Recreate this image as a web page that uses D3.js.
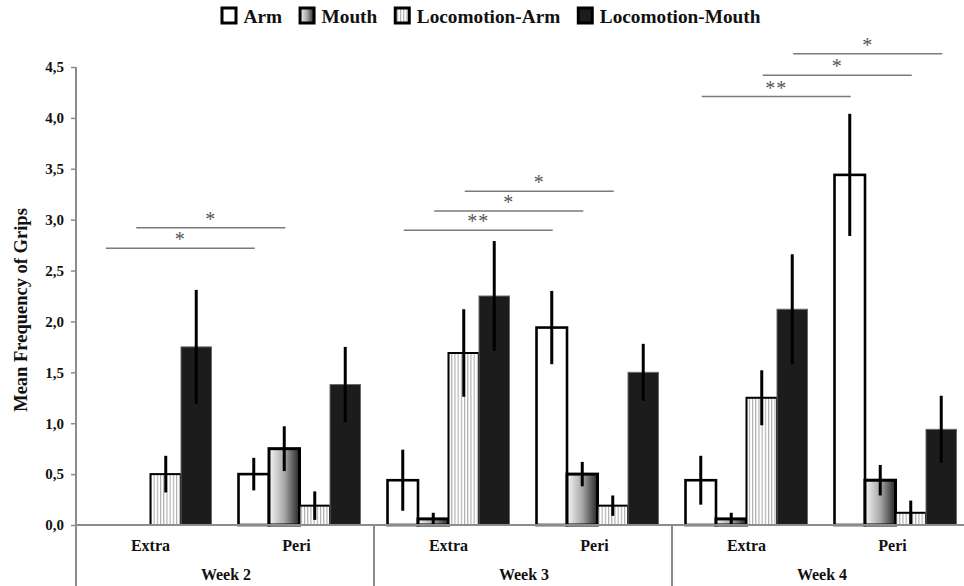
<!DOCTYPE html>
<html><head><meta charset="utf-8">
<script src="https://cdn.jsdelivr.net/npm/d3@7"></script>
<style>
html,body{margin:0;padding:0;background:#fff;}
text{font-family:"Liberation Serif","Times New Roman",serif;}
</style></head>
<body>
<svg id="chart" width="964" height="586"></svg>
<script>
// ---- data ----
const weeks = ["Week 2", "Week 3", "Week 4"];
const locations = ["Extra", "Peri"];
const seriesNames = ["Arm", "Mouth", "Locomotion-Arm", "Locomotion-Mouth"];
// order: W2 Extra, W2 Peri, W3 Extra, W3 Peri, W4 Extra, W4 Peri
const armMean      = [0,    0.50, 0.44, 1.94, 0.44, 3.44];
const armErr       = [0,    0.16, 0.30, 0.36, 0.24, 0.60];
const mouthMean    = [0,    0.75, 0.06, 0.50, 0.06, 0.44];
const mouthErr     = [0,    0.22, 0.06, 0.12, 0.06, 0.15];
const locArmMean   = [0.50, 0.19, 1.69, 0.19, 1.25, 0.12];
const locArmErr    = [0.18, 0.14, 0.43, 0.10, 0.27, 0.12];
const locMouthMean = [1.75, 1.38, 2.25, 1.50, 2.12, 0.94];
const locMouthErr  = [0.56, 0.37, 0.54, 0.28, 0.54, 0.33];
const yTicks = [0, 0.5, 1, 1.5, 2, 2.5, 3, 3.5, 4, 4.5];
// significance brackets (Extra vs Peri of same series within a week)
const sigWeek   = [0, 0, 1, 1, 1, 2, 2, 2];
const sigSeries = [1, 0, 0, 1, 2, 0, 2, 3];
const sigLevel  = [2.92, 2.72, 2.895, 3.085, 3.28, 4.21, 4.42, 4.63];
const sigLabel  = ["*", "*", "**", "*", "*", "**", "*", "*"];

const means = [armMean, mouthMean, locArmMean, locMouthMean];
const errs  = [armErr, mouthErr, locArmErr, locMouthErr];

// ---- layout ----
const svg = d3.select("#chart");
const mLeft = 76, mRight = 970, mTop = 67, mBottom = 525, axisEnd = 586;
const groups = [];
weeks.forEach(w => locations.forEach(l => groups.push(w + "|" + l)));

const xWeek = d3.scaleBand().domain(weeks).range([mLeft, mRight]);
const xGroup = d3.scaleBand().domain(groups).range([mLeft, mRight]);
const xSeries = d3.scaleBand().domain(seriesNames).range([0, xGroup.bandwidth()]).paddingInner(0).paddingOuter(0.443);
const y = d3.scaleLinear().domain([0, 4.5]).range([mBottom, mTop]);

// defs
const defs = svg.append("defs");
const grad = defs.append("linearGradient").attr("id", "mouthGrad").attr("x1", "0").attr("x2", "1").attr("y1", "0").attr("y2", "0");
grad.append("stop").attr("offset", "0").attr("stop-color", "#f6f6f6");
grad.append("stop").attr("offset", "0.5").attr("stop-color", "#a8a8a8");
grad.append("stop").attr("offset", "1").attr("stop-color", "#262626");
const pat = defs.append("pattern").attr("id", "stripes").attr("patternUnits", "userSpaceOnUse").attr("width", 3.2).attr("height", 10);
pat.append("rect").attr("width", 3.2).attr("height", 10).attr("fill", "#fff");
pat.append("line").attr("x1", 0.6).attr("x2", 0.6).attr("y1", 0).attr("y2", 10).attr("stroke", "#9a9a9a").attr("stroke-width", 0.9);

const styles = [
  {fill: "#fff", stroke: "#000", sw: 2.6},
  {fill: "url(#mouthGrad)", stroke: "#000", sw: 3},
  {fill: "url(#stripes)", stroke: "#000", sw: 2},
  {fill: "#1c1c1c", stroke: "#6a6a6a", sw: 1}
];

// axes
const gray = "#8c8c8c";
const yAxis = d3.axisLeft(y).tickValues(yTicks).tickSize(5).tickSizeOuter(0).tickPadding(7)
  .tickFormat(d => d.toFixed(1).replace(".", ","));
const ya = svg.append("g").attr("transform", `translate(${mLeft},0)`).call(yAxis);
ya.select(".domain").remove();
ya.selectAll(".tick line").attr("stroke", gray).attr("stroke-width", 1.5);
ya.selectAll(".tick text").attr("font-size", 15).attr("font-weight", "bold").attr("fill", "#111")
  .style("font-family", "'Liberation Serif', serif");
svg.append("line").attr("x1", mLeft).attr("x2", mLeft).attr("y1", mTop).attr("y2", axisEnd)
  .attr("stroke", gray).attr("stroke-width", 2);

// y label
svg.append("text").attr("transform", `translate(27,310) rotate(-90)`)
  .attr("text-anchor", "middle").attr("font-size", 18.5).attr("font-weight", "bold").attr("fill", "#111")
  .text("Mean Frequency of Grips");

// bars
const bars = svg.append("g");
groups.forEach((g, gi) => {
  seriesNames.forEach((s, si) => {
    const v = means[si][gi];
    if (v <= 0) return;
    const x0 = xGroup(g) + xSeries(s);
    const st = styles[si];
    bars.append("rect").attr("x", x0).attr("width", xSeries.bandwidth())
      .attr("y", y(v)).attr("height", y(0) - y(v))
      .attr("fill", st.fill).attr("stroke", st.stroke).attr("stroke-width", st.sw);
  });
});
// error bars
groups.forEach((g, gi) => {
  seriesNames.forEach((s, si) => {
    const v = means[si][gi], e = errs[si][gi];
    if (v <= 0) return;
    const cx = xGroup(g) + xSeries(s) + xSeries.bandwidth() / 2;
    bars.append("line").attr("x1", cx).attr("x2", cx)
      .attr("y1", y(v + e)).attr("y2", y(Math.max(0, v - e)))
      .attr("stroke", "#000").attr("stroke-width", 3);
  });
});

// x axis line
svg.append("line").attr("x1", mLeft).attr("x2", 964).attr("y1", mBottom).attr("y2", mBottom)
  .attr("stroke", gray).attr("stroke-width", 2);
weeks.slice(1).forEach(w => {
  svg.append("line").attr("x1", xWeek(w)).attr("x2", xWeek(w)).attr("y1", mBottom).attr("y2", axisEnd)
    .attr("stroke", gray).attr("stroke-width", 2);
});
// category labels
groups.forEach(g => {
  const loc = g.split("|")[1];
  svg.append("text").attr("x", xGroup(g) + xGroup.bandwidth() / 2 - (loc === "Peri" ? 3 : 0)).attr("y", 551)
    .attr("text-anchor", "middle").attr("font-size", 16).attr("font-weight", "bold").attr("fill", "#111").text(loc);
});
weeks.forEach(w => {
  svg.append("text").attr("x", xWeek(w) + xWeek.bandwidth() / 2 + 1).attr("y", 580)
    .attr("text-anchor", "middle").attr("font-size", 16).attr("font-weight", "bold").attr("fill", "#111").text(w);
});

// significance brackets
sigWeek.forEach((wi, i) => {
  const s = seriesNames[sigSeries[i]];
  const xa = xGroup(weeks[wi] + "|Extra") + xSeries(s) + xSeries.bandwidth() / 2 + 1;
  const xb = xGroup(weeks[wi] + "|Peri") + xSeries(s) + xSeries.bandwidth() / 2 + 1;
  const yy = y(sigLevel[i]);
  svg.append("line").attr("x1", xa).attr("x2", xb).attr("y1", yy).attr("y2", yy)
    .attr("stroke", "#7a7a7a").attr("stroke-width", 1.5);
  svg.append("text").attr("x", (xa + xb) / 2).attr("y", yy - 2).attr("text-anchor", "middle")
    .attr("font-size", 20).attr("fill", "#555").attr("letter-spacing", 1).text(sigLabel[i]);
});

// legend
const leg = svg.append("g");
let lx = 222;
seriesNames.forEach((s, si) => {
  const st = styles[si];
  leg.append("rect").attr("x", lx).attr("y", 8).attr("width", 14).attr("height", 15)
    .attr("fill", st.fill).attr("stroke", "#000").attr("stroke-width", 3);
  const t = leg.append("text").attr("x", lx + 21.5).attr("y", 22.5).attr("font-size", 19.3)
    .attr("font-weight", "bold").attr("fill", "#111").text(s);
  lx += 21.5 + t.node().getComputedTextLength() + 18;
});
</script>
</body></html>
